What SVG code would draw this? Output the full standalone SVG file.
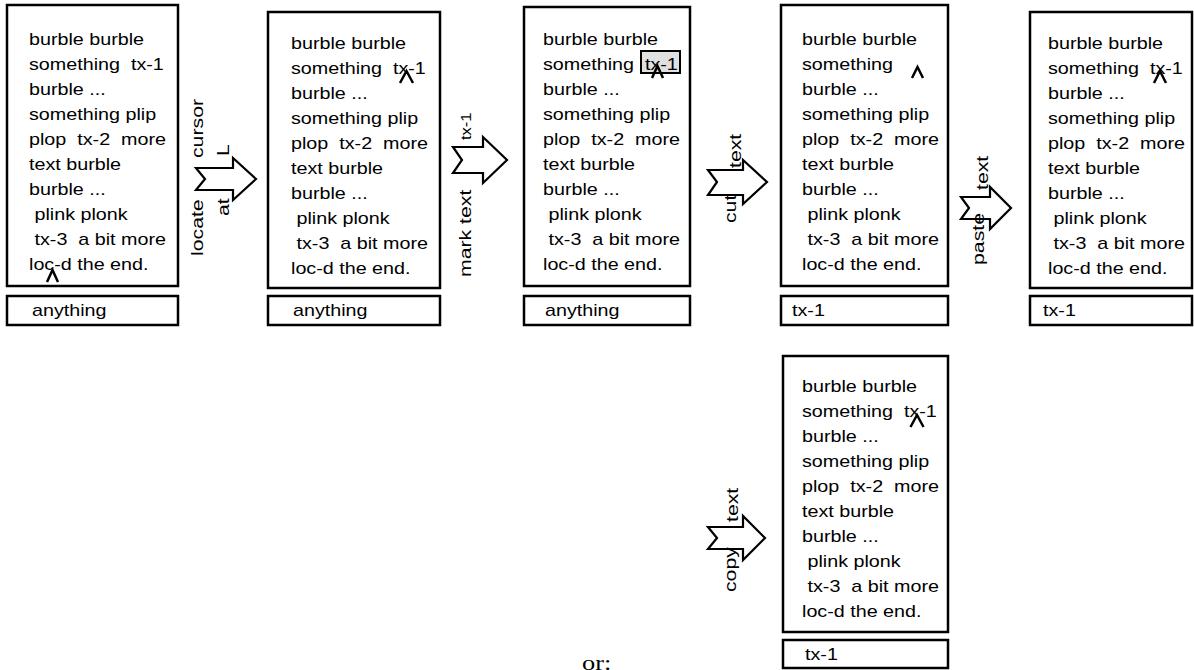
<svg xmlns="http://www.w3.org/2000/svg" width="1194" height="670" viewBox="0 0 1194 670">
<style>
.bx{fill:#fff;stroke:#000;stroke-width:2.5}
.t{font-family:"Liberation Sans",Arial,sans-serif;font-size:17px;fill:#000}
.r{font-family:"Liberation Sans",Arial,sans-serif;font-size:17px;fill:#000}
.ar{fill:#fff;stroke:#000;stroke-width:2.2;stroke-linejoin:miter}
.cr{fill:none;stroke:#000;stroke-width:2.5}
.hl{fill:#e0e0e0;stroke:#000;stroke-width:2}
.or{font-family:"Liberation Serif","Times New Roman",serif;font-size:22px;fill:#000}
</style>
<rect width="1194" height="670" fill="#fff"/>
<g id="node1">
<rect class="bx" x="7" y="5" width="171" height="281"/>
<g transform="translate(29,45) scale(1.16,1)" class="t">
<text y="0">burble burble</text><text y="25" xml:space="preserve">something  tx-1</text><text y="50">burble ...</text><text y="75">something plip</text><text y="100" xml:space="preserve">plop  tx-2  more</text><text y="125">text burble</text><text y="150">burble ...</text><text y="175" xml:space="preserve"> plink plonk</text><text y="200" xml:space="preserve"> tx-3  a bit more</text><text y="225">loc-d the end.</text>
</g>
<polyline class="cr" points="47,282 52.5,270 58,282"/>
<rect class="bx" x="7" y="296" width="171" height="29"/>
<text class="t" transform="translate(32,316) scale(1.16,1)">anything</text>
</g>
<g id="node2">
<rect class="bx" x="268" y="12" width="172" height="276"/>
<g transform="translate(291,49) scale(1.16,1)" class="t">
<text y="0">burble burble</text><text y="25" xml:space="preserve">something  tx-1</text><text y="50">burble ...</text><text y="75">something plip</text><text y="100" xml:space="preserve">plop  tx-2  more</text><text y="125">text burble</text><text y="150">burble ...</text><text y="175" xml:space="preserve"> plink plonk</text><text y="200" xml:space="preserve"> tx-3  a bit more</text><text y="225">loc-d the end.</text>
</g>
<polyline class="cr" points="400,83 406.5,71 413,83"/>
<rect class="bx" x="268" y="296" width="172" height="29"/>
<text class="t" transform="translate(293,316) scale(1.16,1)">anything</text>
</g>
<g id="node3">
<rect class="bx" x="524" y="7" width="166" height="279"/>
<rect class="hl" x="641" y="51" width="39" height="22"/>
<g transform="translate(543,45) scale(1.16,1)" class="t">
<text y="0">burble burble</text><text y="25" xml:space="preserve">something  tx-1</text><text y="50">burble ...</text><text y="75">something plip</text><text y="100" xml:space="preserve">plop  tx-2  more</text><text y="125">text burble</text><text y="150">burble ...</text><text y="175" xml:space="preserve"> plink plonk</text><text y="200" xml:space="preserve"> tx-3  a bit more</text><text y="225">loc-d the end.</text>
</g>
<polyline class="cr" points="652,78 657.5,66 663,78"/>
<rect class="bx" x="524" y="296" width="166" height="29"/>
<text class="t" transform="translate(545,316) scale(1.16,1)">anything</text>
</g>
<g id="node4">
<rect class="bx" x="781" y="5" width="167" height="281"/>
<g transform="translate(802,45) scale(1.16,1)" class="t">
<text y="0">burble burble</text><text y="25">something</text><text y="50">burble ...</text><text y="75">something plip</text><text y="100" xml:space="preserve">plop  tx-2  more</text><text y="125">text burble</text><text y="150">burble ...</text><text y="175" xml:space="preserve"> plink plonk</text><text y="200" xml:space="preserve"> tx-3  a bit more</text><text y="225">loc-d the end.</text>
</g>
<polyline class="cr" points="912,78 917.5,67 923,78"/>
<rect class="bx" x="781" y="296" width="167" height="29"/>
<text class="t" transform="translate(792,316) scale(1.16,1)">tx-1</text>
</g>
<g id="node5">
<rect class="bx" x="1030" y="12" width="162" height="276"/>
<g transform="translate(1048,49) scale(1.16,1)" class="t">
<text y="0">burble burble</text><text y="25" xml:space="preserve">something  tx-1</text><text y="50">burble ...</text><text y="75">something plip</text><text y="100" xml:space="preserve">plop  tx-2  more</text><text y="125">text burble</text><text y="150">burble ...</text><text y="175" xml:space="preserve"> plink plonk</text><text y="200" xml:space="preserve"> tx-3  a bit more</text><text y="225">loc-d the end.</text>
</g>
<polyline class="cr" points="1154,83 1160,71 1166,83"/>
<rect class="bx" x="1030" y="296" width="162" height="29"/>
<text class="t" transform="translate(1043,316) scale(1.16,1)">tx-1</text>
</g>
<g id="node6">
<rect class="bx" x="783" y="356" width="165" height="276"/>
<g transform="translate(802,392) scale(1.16,1)" class="t">
<text y="0">burble burble</text><text y="25" xml:space="preserve">something  tx-1</text><text y="50">burble ...</text><text y="75">something plip</text><text y="100" xml:space="preserve">plop  tx-2  more</text><text y="125">text burble</text><text y="150">burble ...</text><text y="175" xml:space="preserve"> plink plonk</text><text y="200" xml:space="preserve"> tx-3  a bit more</text><text y="225">loc-d the end.</text>
</g>
<polyline class="cr" points="910.5,427 917,415 923.5,427"/>
<rect class="bx" x="783" y="640" width="165" height="28"/>
<text class="t" transform="translate(805,660) scale(1.16,1)">tx-1</text>
</g>
<g id="connectors">
<polygon class="ar" points="196,168 233,168 233,158 256,179 233,200 233,190 196,190 205,179"/>
<polygon class="ar" points="453,147 483,147 483,137 507,160 483,183 483,173 453,173 462,160"/>
<polygon class="ar" points="708,170 743,170 743,160 767,182 743,204 743,195 708,195 717,182"/>
<polygon class="ar" points="961,197 990,197 990,187 1011,208 990,229 990,219 961,219 969,208"/>
<polygon class="ar" points="708,527 743,527 743,516 765,538 743,560 743,549 708,549 717,538"/>
<g class="r">
<text transform="translate(203,256) rotate(-90) scale(1.25,1)">locate</text>
<text transform="translate(203,158) rotate(-90) scale(1.25,1)">cursor</text>
<text transform="translate(229,216) rotate(-90) scale(1.25,1)">at</text>
<text transform="translate(229,156) rotate(-90) scale(1.25,1)">L</text>
<text transform="translate(471,277) rotate(-90) scale(1.25,1)">mark text</text>
<text transform="translate(471,140) rotate(-90) scale(1.1,1)" font-size="15">tx-1</text>
<text transform="translate(736,223) rotate(-90) scale(1.25,1)">cut</text>
<text transform="translate(741,168) rotate(-90) scale(1.25,1)">text</text>
<text transform="translate(984,265) rotate(-90) scale(1.25,1)">paste</text>
<text transform="translate(988,190) rotate(-90) scale(1.25,1)">text</text>
<text transform="translate(736,592) rotate(-90) scale(1.25,1)">copy</text>
<text transform="translate(738,522) rotate(-90) scale(1.25,1)">text</text>
</g>
</g>
<text class="or" transform="translate(582,670) scale(1.2,1)">or:</text>
</svg>
